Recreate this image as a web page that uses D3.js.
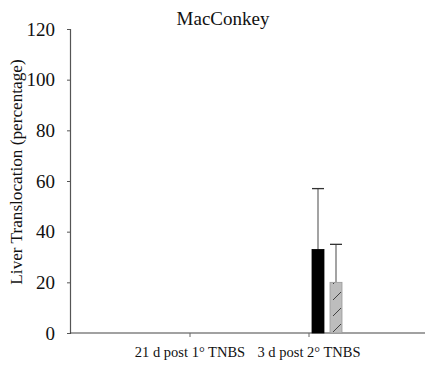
<!DOCTYPE html>
<html><head><meta charset="utf-8">
<script src="https://cdn.jsdelivr.net/npm/d3@7"></script>
<style>body{margin:0;background:#fff}svg{display:block}svg text{font-family:"Liberation Serif","DejaVu Serif",serif}</style>
</head><body>
<script>
const categories = ["", "21 d post 1° TNBS", "3 d post 2° TNBS"];
const series = ["s1", "s2"];
const meanValues = [[null, null], [0, 0], [33, 20]];
const errValues = [[null, null], [0, 0], [57, 35]];
const yTicks = [0, 20, 40, 60, 80, 100, 120];

const W = 425, H = 365;
const FONT = "Liberation Serif";
const svg = d3.select("body").append("svg").attr("width", W).attr("height", H);

const defs = svg.append("defs");
const pat = defs.append("pattern").attr("id", "hatch").attr("patternUnits", "userSpaceOnUse")
  .attr("x", 331).attr("y", 0).attr("width", 12).attr("height", 16);
pat.append("rect").attr("width", 12).attr("height", 16).attr("fill", "#bdbdbd");
pat.append("line").attr("x1", 2).attr("y1", 12).attr("x2", 10).attr("y2", 4)
  .attr("stroke", "#333").attr("stroke-width", 0.9);

const y = d3.scaleLinear().domain([0, 120]).range([333, 29]);
const x0 = d3.scaleBand().domain(categories).range([71, 428]);
const x1 = d3.scaleBand().domain(series).range([3, 33]).paddingInner(1/3);

// y axis
const yAxis = svg.append("g").attr("transform", "translate(70,0)")
  .call(d3.axisLeft(y).tickValues(yTicks).tickSize(3).tickPadding(12));
yAxis.attr("font-family", FONT);
yAxis.select(".domain").attr("stroke", "#555").attr("stroke-width", 1.2);
yAxis.selectAll(".tick line").attr("stroke", "#555");
yAxis.selectAll(".tick text").attr("font-size", 19).attr("fill", "#111")
  .attr("font-family", FONT);

// x axis
const xg = svg.append("g").attr("transform", "translate(0,333)");
xg.append("line").attr("x1", 70).attr("x2", 425).attr("y1", 0).attr("y2", 0)
  .attr("stroke", "#444").attr("stroke-width", 1.2);
const xt = xg.selectAll(".xt").data(categories.slice(1)).join("g")
  .attr("transform", d => `translate(${x0(d)},0)`);
xt.append("line").attr("y1", 0).attr("y2", 4).attr("stroke", "#666");
xt.append("text").attr("y", 23.5).attr("text-anchor", "middle").attr("font-size", 14.5)
  .attr("font-family", FONT).attr("fill", "#111").text(d => d);

// bars
const fills = ["#000", "url(#hatch)"];
categories.forEach((c, ci) => {
  series.forEach((s, si) => {
    const v = meanValues[ci][si];
    if (v === null || v === 0) return;
    const bx = x0(c) + x1(s);
    const e = errValues[ci][si];
    const cx = bx + x1.bandwidth() / 2;
    svg.append("line").attr("x1", cx).attr("x2", cx).attr("y1", y(v)).attr("y2", y(e))
      .attr("stroke", "#666").attr("stroke-width", 1.2);
    svg.append("line").attr("x1", cx - 6).attr("x2", cx + 6).attr("y1", y(e)).attr("y2", y(e))
      .attr("stroke", "#333").attr("stroke-width", 1.3);
    svg.append("rect").attr("x", bx).attr("y", y(v)).attr("width", x1.bandwidth())
      .attr("height", y(0) - y(v)).attr("fill", fills[si])
      .attr("stroke", si === 1 ? "#999" : "#000").attr("stroke-width", 0.8);
  });
});

// title
svg.append("text").attr("x", 223).attr("y", 25).attr("text-anchor", "middle")
  .attr("font-family", FONT).attr("font-size", 19).attr("fill", "#111").text("MacConkey");

// y title
svg.append("text").attr("transform", "translate(22,172) rotate(-90)")
  .attr("text-anchor", "middle").attr("font-size", 17.2).attr("fill", "#111")
  .attr("font-family", FONT)
  .text("Liver Translocation (percentage)");
</script>
</body></html>
